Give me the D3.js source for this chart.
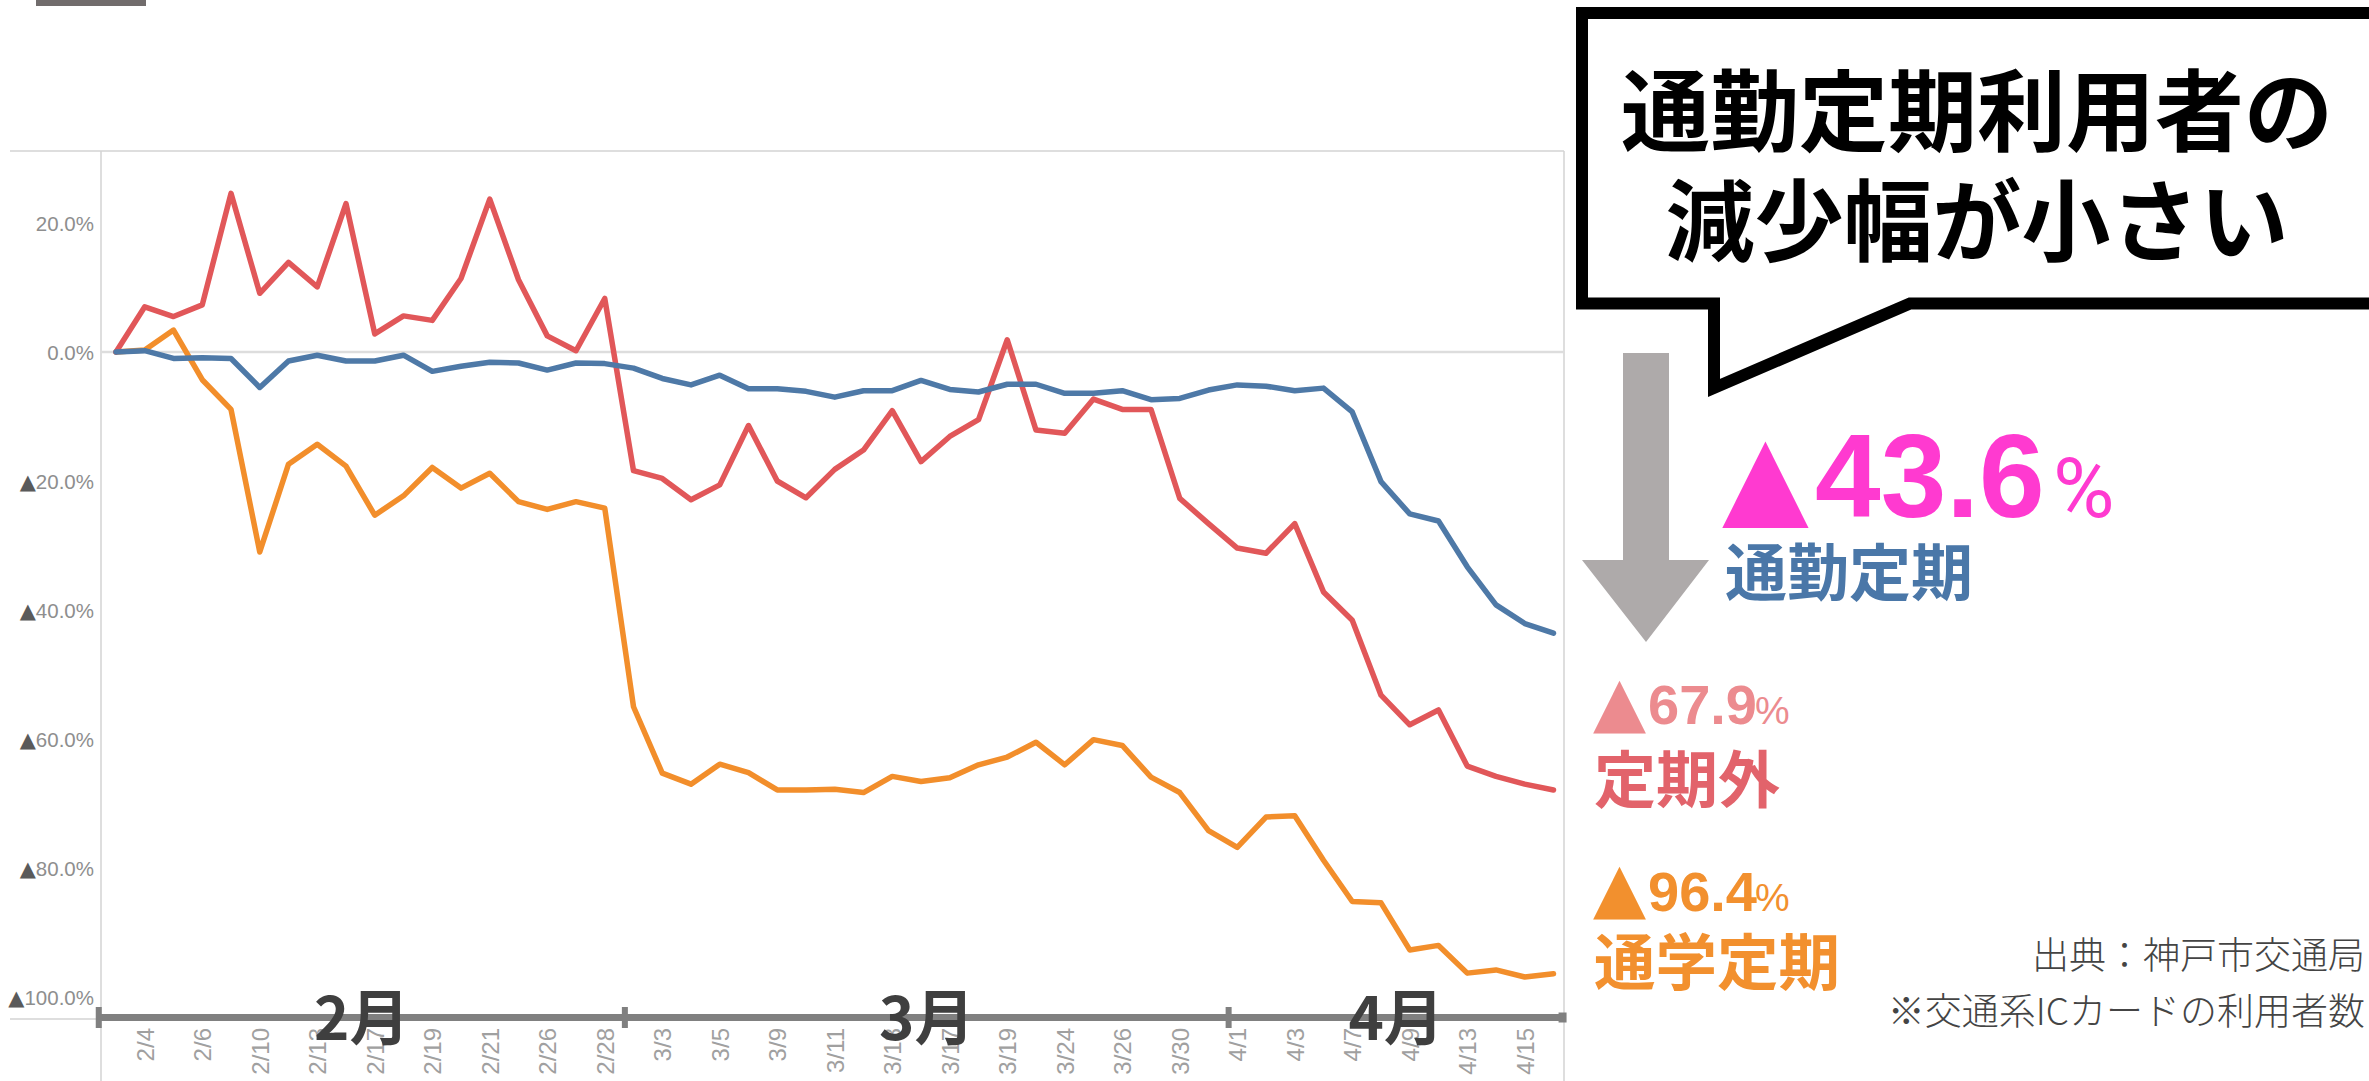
<!DOCTYPE html>
<html>
<head>
<meta charset="utf-8">
<script src="https://cdn.jsdelivr.net/npm/d3@7"></script>
<style>
  html, body { margin: 0; padding: 0; background: #fff; }
  svg { display: block; }
</style>
</head>
<body>
<script>
// business days, 2020
const dates = ["2/3","2/4","2/5","2/6","2/7","2/10","2/12","2/13","2/14","2/17","2/18","2/19","2/20","2/21","2/25","2/26","2/27","2/28",
  "3/2","3/3","3/4","3/5","3/6","3/9","3/10","3/11","3/12","3/13","3/16","3/17","3/18","3/19","3/23","3/24","3/25","3/26","3/27","3/30","3/31",
  "4/1","4/2","4/3","4/6","4/7","4/8","4/9","4/10","4/13","4/14","4/15","4/16"];

// change vs. last year (%)
const commuter = [0, 0.2, -1.0, -0.9, -1.0, -5.5, -1.4, -0.5, -1.4, -1.4, -0.5, -3.0, -2.2, -1.6, -1.7, -2.8, -1.7,
  -1.8, -2.5, -4.1, -5.1, -3.6, -5.7, -5.7, -6.1, -7.0, -6.0, -6.0, -4.4, -5.8, -6.2, -5.0, -5.0, -6.4,
  -6.4, -6.0, -7.4, -7.2, -5.9, -5.1, -5.3, -6.0, -5.6, -9.3, -20.1, -25.1, -26.2, -33.3, -39.2, -42.1, -43.6];
const nonPass = [0, 7.0, 5.5, 7.3, 24.6, 9.1, 13.9, 10.1, 23.0, 2.8, 5.6, 4.9, 11.4, 23.7, 11.2, 2.5, 0.2,
  8.3, -18.4, -19.6, -22.9, -20.6, -11.4, -20.0, -22.6, -18.2, -15.2, -9.1, -17.0, -13.1, -10.5, 1.9, -12.1, -12.6,
  -7.3, -8.9, -8.9, -22.7, -26.6, -30.4, -31.2, -26.6, -37.2, -41.6, -53.2, -57.8, -55.5, -64.2, -65.8, -67.0, -67.9];
const student = [0, 0.3, 3.4, -4.3, -8.9, -31.0, -17.4, -14.3, -17.7, -25.3, -22.3, -17.9, -21.1, -18.8, -23.2, -24.4, -23.2,
  -24.2, -55.0, -65.3, -67.0, -63.9, -65.2, -67.9, -67.9, -67.8, -68.3, -65.8, -66.6, -66.0, -64.0, -62.8, -60.5, -64.0,
  -60.1, -61.0, -65.9, -68.3, -74.2, -76.8, -72.1, -71.9, -78.8, -85.2, -85.4, -92.7, -92.0, -96.3, -95.8, -96.9, -96.4];

const yTicks = [20, 0, -20, -40, -60, -80, -100];
const months = ["2月", "3月", "4月"];
const monthStarts = ["2/3", "3/2", "4/1"];

const seriesColors = { student: "#F28E2B", nonPass: "#E15759", commuter: "#4E79A7" };

const width = 2369, height = 1081;
const plotL = 101, plotR = 1564, plotT = 151, plotB = 1019;

const svg = d3.select("body").append("svg")
  .attr("width", width)
  .attr("height", height);

let x = d3.scalePoint().domain(dates).range([116, 1553.5]);
let y = d3.scaleLinear().domain([-100, 20]).range([997, 223]);
let step = x.step();

// leftover header bar
svg.append("rect").attr("x", 36).attr("y", 0).attr("width", 110).attr("height", 6).attr("fill", "#716c6c");

// pane frame
let frame = svg.append("g").attr("stroke", "#d3d3d3").attr("stroke-width", 1.5);
frame.append("line").attr("x1", 10).attr("x2", plotR).attr("y1", plotT).attr("y2", plotT);
frame.append("line").attr("x1", plotL).attr("x2", plotL).attr("y1", plotT).attr("y2", height);
frame.append("line").attr("x1", plotR).attr("x2", plotR).attr("y1", plotT).attr("y2", height);
frame.append("line").attr("x1", 10).attr("x2", plotR).attr("y1", plotB).attr("y2", plotB);

svg.append("line")
  .attr("x1", plotL).attr("x2", plotR)
  .attr("y1", y(0)).attr("y2", y(0))
  .attr("stroke", "#dddddd").attr("stroke-width", 2.5);

// y axis
let yAxis = svg.append("g")
  .attr("transform", `translate(${plotL},0)`)
  .call(d3.axisLeft(y).tickValues(yTicks).tickSize(0).tickPadding(7));
yAxis.select(".domain").remove();
yAxis.selectAll("text")
  .attr("font-family", "'Liberation Sans', Arial, sans-serif")
  .attr("font-size", 20.5)
  .attr("fill", "#8e8e8e")
  .attr("dy", "0.36em")
  .text(null)
  .each(function(d) {
    let t = d3.select(this);
    if (d < 0) t.append("tspan")
      .attr("font-family", "'DejaVu Sans', sans-serif")
      .attr("font-size", 21)
      .attr("fill", "#5a5a5a").text("▲");
    t.append("tspan").text(Math.abs(d).toFixed(1) + "%");
  });

// x axis labels (every other day)
let xAxis = svg.append("g")
  .attr("transform", "translate(0,1028)")
  .call(d3.axisBottom(x).tickValues(dates.filter((d, i) => i % 2 === 1)).tickSize(0));
xAxis.select(".domain").remove();
xAxis.selectAll("text")
  .attr("font-family", "'Liberation Sans', Arial, sans-serif")
  .attr("font-size", 24)
  .attr("fill", "#a0a0a0")
  .attr("x", 0).attr("y", 0)
  .attr("dy", "0.35em")
  .attr("text-anchor", "end")
  .attr("transform", "rotate(-90)");

// lines
let line = d3.line()
  .x((d, i) => x(dates[i]))
  .y(d => y(d));

[["student", student], ["nonPass", nonPass], ["commuter", commuter]].forEach(([key, values]) => {
  svg.append("path")
    .datum(values)
    .attr("fill", "none")
    .attr("stroke", seriesColors[key])
    .attr("stroke-width", 5.5)
    .attr("stroke-linejoin", "round")
    .attr("stroke-linecap", "round")
    .attr("d", line);
});

// month bar
let bounds = monthStarts.map((d, i) => i === 0 ? x(d) - step * 0.6 : x(d) - step * 0.3);
bounds.push(x(dates[dates.length - 1]) + step * 0.35);
let barY = 1017.5;
svg.append("line")
  .attr("x1", bounds[0]).attr("x2", bounds[bounds.length - 1])
  .attr("y1", barY).attr("y2", barY)
  .attr("stroke", "#808080").attr("stroke-width", 7);
svg.selectAll(".mtick").data(bounds.slice(0, -1)).enter().append("rect")
  .attr("class", "mtick")
  .attr("x", d => d - 3).attr("y", barY - 10.5)
  .attr("width", 6).attr("height", 21)
  .attr("fill", "#808080");
svg.append("rect")
  .attr("x", bounds[bounds.length - 1] - 5).attr("y", barY - 5)
  .attr("width", 8).attr("height", 10)
  .attr("fill", "#808080");
svg.selectAll(".mlabel").data(months).enter().append("text")
  .attr("class", "mlabel")
  .attr("x", (d, i) => (bounds[i] + bounds[i + 1]) / 2)
  .attr("y", 1040)
  .attr("text-anchor", "middle")
  .attr("font-family", "'Noto Sans CJK JP', sans-serif")
  .attr("font-weight", 700)
  .attr("font-size", 60)
  .attr("fill", "#3f3f3f")
  .text(d => d);

// speech bubble
svg.append("path")
  .attr("d", "M2400,13 H1582 V303.5 H1714 V388 L1910,303.5 H2400")
  .attr("fill", "#fff")
  .attr("stroke", "#000")
  .attr("stroke-width", 12)
  .attr("stroke-linejoin", "miter");
let bubbleLines = ["通勤定期利用者の", "減少幅が小さい"];
svg.append("text")
  .attr("text-anchor", "middle")
  .attr("font-family", "'Noto Sans CJK JP', sans-serif")
  .attr("font-weight", 700)
  .attr("font-size", 89)
  .attr("fill", "#000")
  .selectAll("tspan").data(bubbleLines).enter().append("tspan")
  .attr("x", 1977)
  .attr("y", (d, i) => 144 + i * 110)
  .text(d => d);

// gray arrow
svg.append("path")
  .attr("d", "M1623,353 H1669 V560 H1709 L1646,642 L1582,560 H1623 Z")
  .attr("fill", "#aeaaaa");

// annotations: one text per figure, tspans for triangle / number / percent
const figure = (parts, color) => {
  let t = svg.append("text").attr("fill", color);
  parts.forEach(p => {
    t.append("tspan")
      .attr("x", p.x).attr("y", p.y)
      .attr("font-family", p.family)
      .attr("font-weight", p.weight || 400)
      .attr("font-size", p.size)
      .text(p.text);
  });
};
const jp = (txt, xx, yy, size, color, weight, anchor) => svg.append("text")
  .attr("x", xx).attr("y", yy)
  .attr("text-anchor", anchor || "start")
  .attr("font-family", "'Noto Sans CJK JP', sans-serif")
  .attr("font-weight", weight)
  .attr("font-size", size).attr("fill", color).text(txt);

const triFont = "'DejaVu Sans', sans-serif";
const numFont = "'Liberation Sans', Arial, sans-serif";

figure([
  { text: "▲", x: 1722, y: 514, size: 113, family: triFont },
  { text: "43.6", x: 1815, y: 517, size: 118, family: numFont, weight: 700 },
  { text: "%", x: 2053, y: 517, size: 84, family: "Roboto, sans-serif" }
], "#FF3AD0");
jp("通勤定期", 1725, 596, 62, "#4A77A8", 700);

figure([
  { text: "▲", x: 1593, y: 725, size: 69, family: triFont },
  { text: "67.9", x: 1648, y: 724, size: 56, family: numFont, weight: 700 },
  { text: "%", x: 1755, y: 724, size: 39, family: numFont }
], "#EC8B8F");
jp("定期外", 1594, 803, 62, "#E2636B", 700);

figure([
  { text: "▲", x: 1593, y: 911, size: 69, family: triFont },
  { text: "96.4", x: 1648, y: 911, size: 56, family: numFont, weight: 700 },
  { text: "%", x: 1755, y: 911, size: 39, family: numFont }
], "#F2902E");
jp("通学定期", 1594, 985, 61.5, "#F2902E", 700);

jp("出典：神戸市交通局", 2365, 969, 37, "#444", 300, "end");
jp("※交通系ICカードの利用者数", 2365, 1025, 37, "#444", 300, "end");
</script>
</body>
</html>
